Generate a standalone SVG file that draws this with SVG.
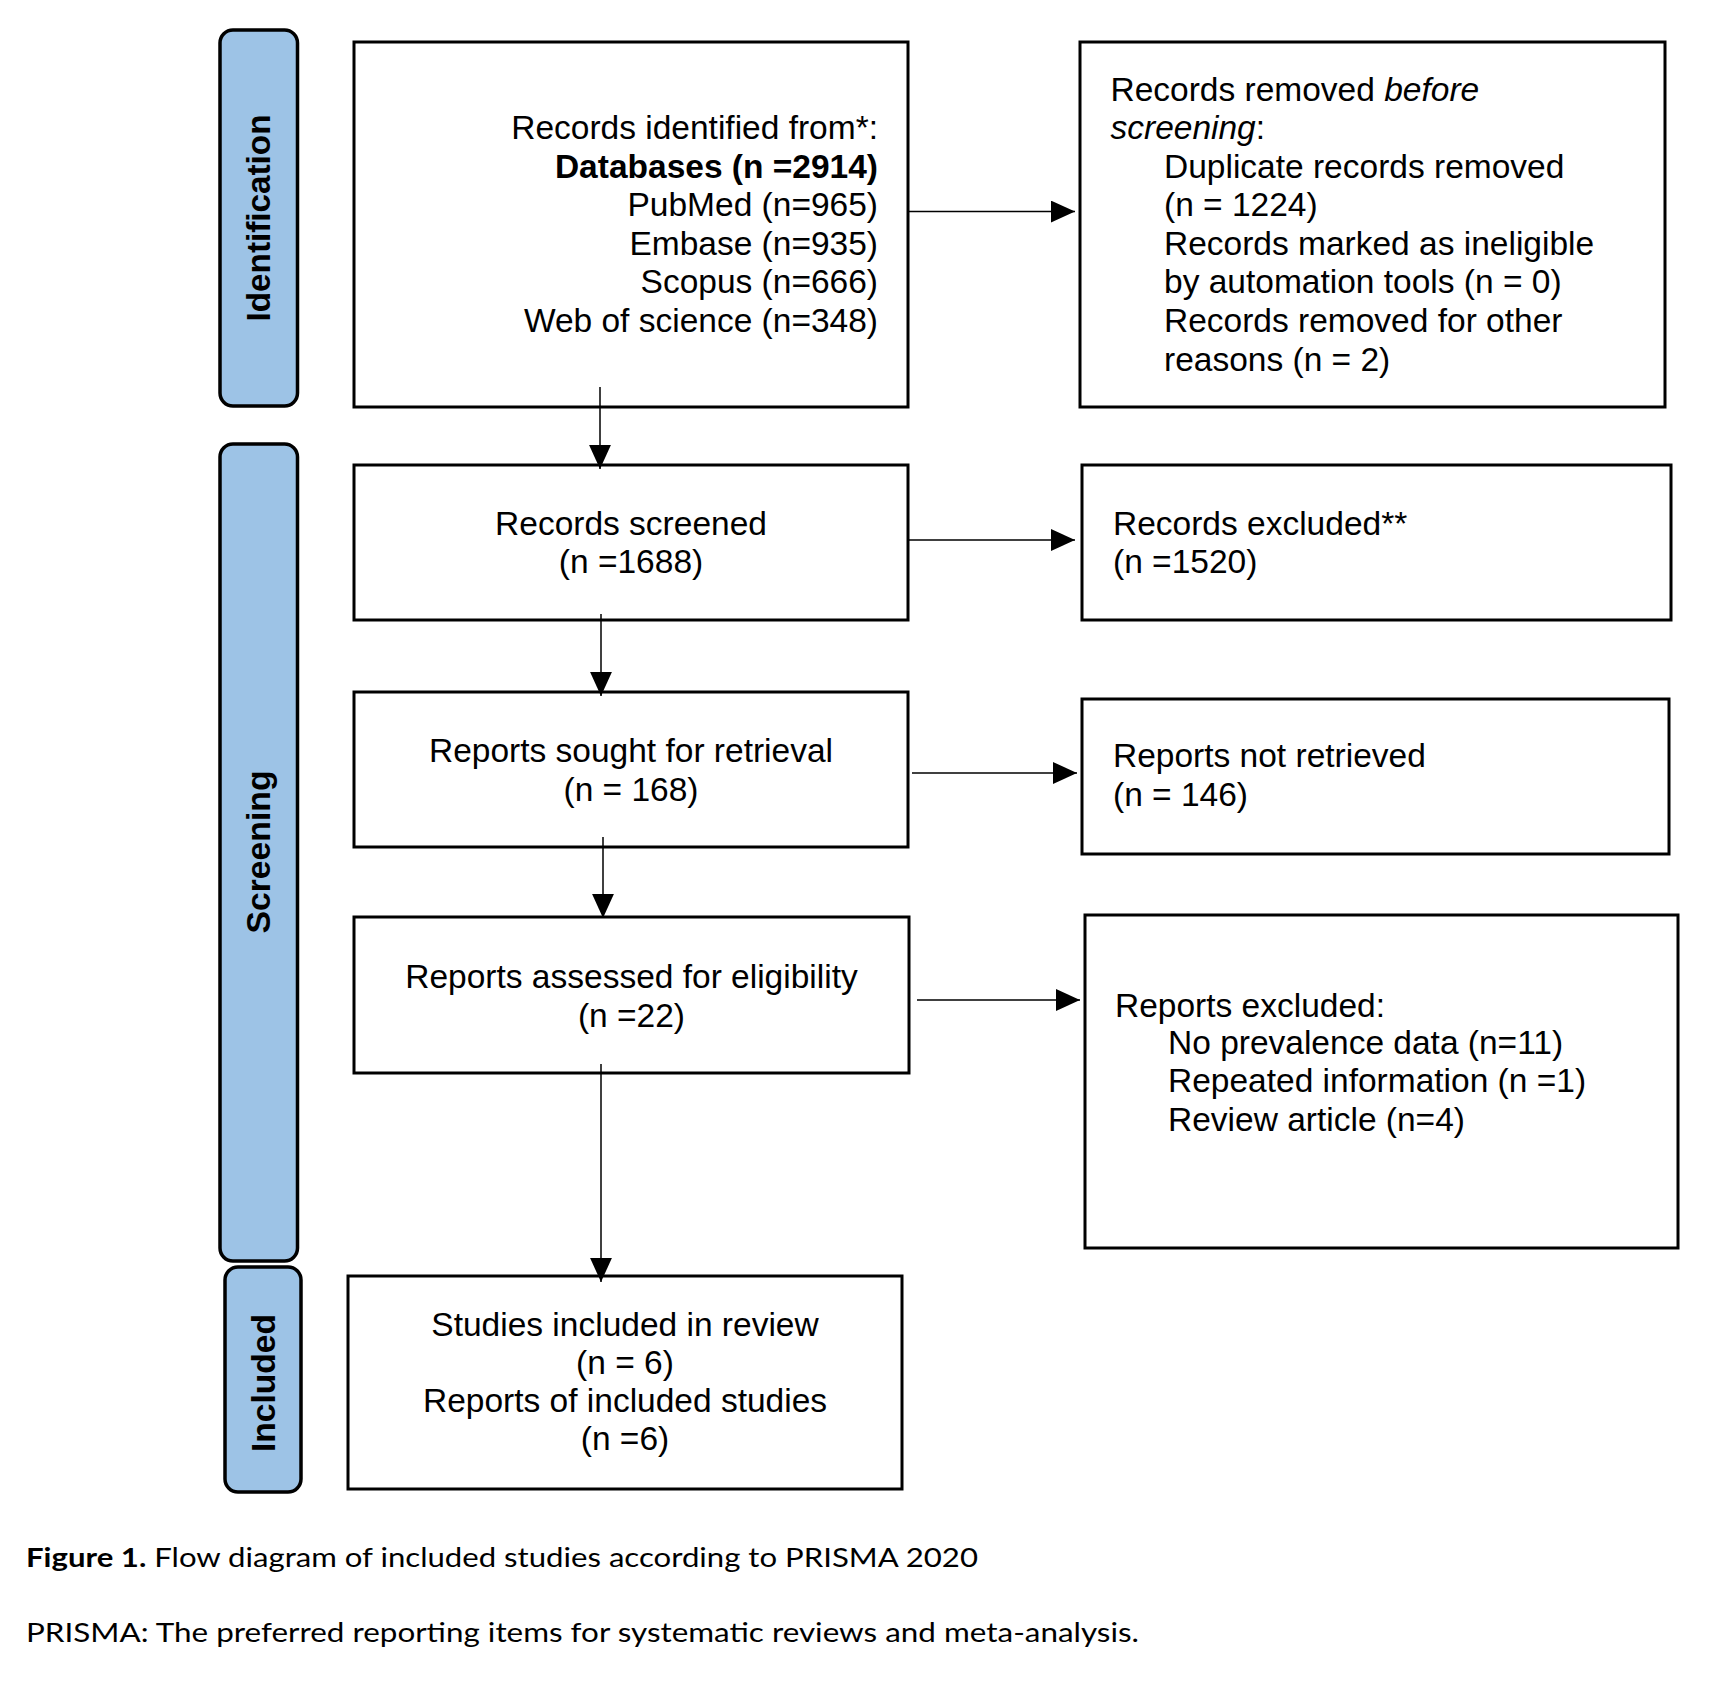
<svg xmlns="http://www.w3.org/2000/svg" width="1719" height="1681" viewBox="0 0 1719 1681">
<defs>
<style>
.box{fill:#fff;stroke:#000;stroke-width:3}
.pill{fill:#9DC3E6;stroke:#000;stroke-width:3.5}
.t{font-family:"Liberation Sans",Arial,sans-serif;font-size:33.5px;fill:#000}
.c{text-anchor:middle}
.r{text-anchor:end}
.pl{font-family:"Liberation Sans",Arial,sans-serif;font-size:34px;font-weight:bold;fill:#000;text-anchor:middle}
.cap{font-family:Lato,"Open Sans",sans-serif;font-size:27.5px;fill:#000}
.con{stroke:#000;stroke-width:1.5;fill:none;marker-end:url(#ah)}
</style>
<marker id="ah" markerUnits="userSpaceOnUse" markerWidth="24" markerHeight="22" viewBox="0 0 22 20" refX="22" refY="10" orient="auto">
<path d="M0,0 L22,10 L0,20 Z" fill="#000"/>
</marker>
</defs>
<rect width="1719" height="1681" fill="#fff"/>

<g id="phase-identification">
<rect class="pill" x="220" y="30" width="77.5" height="376" rx="13"/>
<text class="pl" transform="translate(270,218) rotate(-90)" textLength="207" lengthAdjust="spacingAndGlyphs">Identification</text>
</g>
<g id="phase-screening">
<rect class="pill" x="220" y="444" width="77.5" height="817" rx="13"/>
<text class="pl" transform="translate(270,852) rotate(-90)" textLength="163" lengthAdjust="spacingAndGlyphs">Screening</text>
</g>
<g id="phase-included">
<rect class="pill" x="225" y="1267" width="76" height="225" rx="13"/>
<text class="pl" transform="translate(275,1383) rotate(-90)" textLength="138" lengthAdjust="spacingAndGlyphs">Included</text>
</g>

<g id="records-identified">
<rect class="box" x="354" y="42" width="554" height="365"/>
<text class="t r" x="878" y="139">Records identified from*:</text>
<text class="t r" x="878" y="177.6" font-weight="bold">Databases (n =2914)</text>
<text class="t r" x="878" y="216.2">PubMed (n=965)</text>
<text class="t r" x="878" y="254.8">Embase (n=935)</text>
<text class="t r" x="878" y="293.4">Scopus (n=666)</text>
<text class="t r" x="878" y="332">Web of science (n=348)</text>
</g>

<g id="records-removed">
<rect class="box" x="1080" y="42" width="585" height="365"/>
<text class="t" x="1110.5" y="101">Records removed <tspan font-style="italic">before</tspan></text>
<text class="t" x="1110.5" y="139"><tspan font-style="italic">screening</tspan>:</text>
<text class="t" x="1164" y="177.6">Duplicate records removed</text>
<text class="t" x="1164" y="216.2">(n = 1224)</text>
<text class="t" x="1164" y="254.8">Records marked as ineligible</text>
<text class="t" x="1164" y="293.4">by automation tools (n = 0)</text>
<text class="t" x="1164" y="332">Records removed for other</text>
<text class="t" x="1164" y="370.6">reasons (n = 2)</text>
</g>

<g id="records-screened">
<rect class="box" x="354" y="465" width="554" height="155"/>
<text class="t c" x="631" y="535">Records screened</text>
<text class="t c" x="631" y="573">(n =1688)</text>
</g>

<g id="records-excluded">
<rect class="box" x="1082" y="465" width="589" height="155"/>
<text class="t" x="1113" y="535">Records excluded**</text>
<text class="t" x="1113" y="573">(n =1520)</text>
</g>

<g id="reports-sought">
<rect class="box" x="354" y="692" width="554" height="155"/>
<text class="t c" x="631" y="762">Reports sought for retrieval</text>
<text class="t c" x="631" y="801">(n = 168)</text>
</g>

<g id="reports-not-retrieved">
<rect class="box" x="1082" y="699" width="587" height="155"/>
<text class="t" x="1113" y="767">Reports not retrieved</text>
<text class="t" x="1113" y="805.5">(n = 146)</text>
</g>

<g id="reports-assessed">
<rect class="box" x="354" y="917" width="555" height="156"/>
<text class="t c" x="631.5" y="987.5">Reports assessed for eligibility</text>
<text class="t c" x="631.5" y="1026.5">(n =22)</text>
</g>

<g id="reports-excluded">
<rect class="box" x="1085" y="915" width="593" height="333"/>
<text class="t" x="1115" y="1017">Reports excluded:</text>
<text class="t" x="1168" y="1054">No prevalence data (n=11)</text>
<text class="t" x="1168" y="1092">Repeated information (n =1)</text>
<text class="t" x="1168" y="1130.5">Review article (n=4)</text>
</g>

<g id="studies-included">
<rect class="box" x="348" y="1276" width="554" height="213"/>
<text class="t c" x="625" y="1336">Studies included in review</text>
<text class="t c" x="625" y="1374">(n = 6)</text>
<text class="t c" x="625" y="1412">Reports of included studies</text>
<text class="t c" x="625" y="1450">(n =6)</text>
</g>

<g id="connectors">
<line class="con" x1="600" y1="387" x2="600" y2="469"/>
<line class="con" x1="601" y1="614" x2="601" y2="696"/>
<line class="con" x1="603" y1="837" x2="603" y2="918"/>
<line class="con" x1="601" y1="1064" x2="601" y2="1282"/>
<line class="con" x1="909" y1="211.5" x2="1075" y2="211.5"/>
<line class="con" x1="909" y1="540" x2="1075" y2="540"/>
<line class="con" x1="912" y1="773" x2="1077" y2="773"/>
<line class="con" x1="917" y1="1000" x2="1080" y2="1000"/>
</g>

<g id="caption">
<text class="cap" x="26" y="1567" textLength="952" lengthAdjust="spacingAndGlyphs"><tspan font-weight="bold">Figure 1.</tspan> Flow diagram of included studies according to PRISMA 2020</text>
<text class="cap" x="26" y="1641.5" textLength="1113" lengthAdjust="spacingAndGlyphs">PRISMA: The preferred reporting items for systematic reviews and meta-analysis.</text>
</g>
</svg>
